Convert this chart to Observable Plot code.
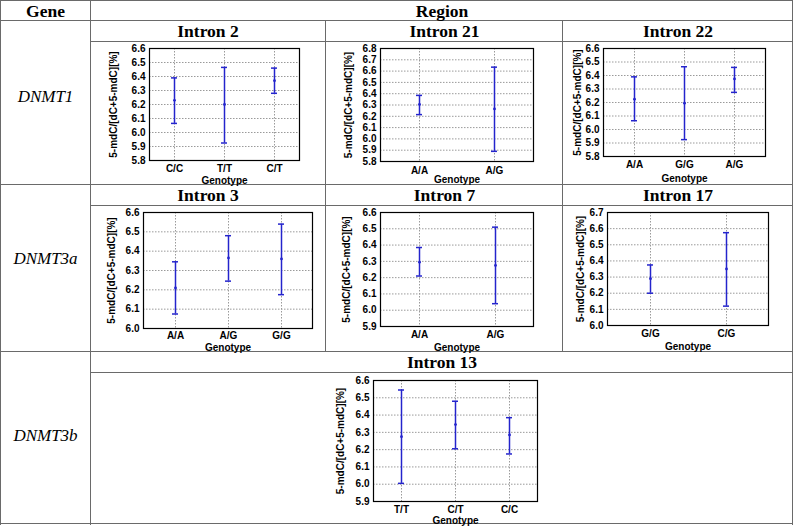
<!DOCTYPE html>
<html><head><meta charset="utf-8">
<script src="https://cdn.jsdelivr.net/npm/d3@7"></script>
<script src="https://cdn.jsdelivr.net/npm/@observablehq/plot@0.6"></script>
<style>
body{margin:0;background:#fff;}
#page{position:relative;width:794px;height:526px;overflow:hidden;background:#fff;}
.hl{position:absolute;height:0;border-top:1.5px solid #6a6a6a;}
.vl{position:absolute;width:0;border-left:1.5px solid #6a6a6a;}
.t{position:absolute;font-family:"Liberation Serif","Times New Roman",serif;font-weight:bold;font-size:17.5px;transform:translate(-50%,-50%);white-space:nowrap;color:#000;line-height:1;}
.g{font-style:italic;font-weight:normal;font-size:17px;}
.p{position:absolute;}
</style></head><body><div id="page"></div>
<script>
// ---------- data ----------
const headerGene = "Gene";
const headerRegion = "Region";
const genes = ["DNMT1", "DNMT3a", "DNMT3b"];
const yLabel = "5-mdC/[dC+5-mdC][%]";
const xLabel = "Genotype";

const intron2Genotypes = ["C/C", "T/T", "C/T"];
const intron2Mean  = [6.23, 6.20, 6.37];
const intron2Upper = [6.39, 6.465, 6.46];
const intron2Lower = [6.065, 5.925, 6.28];

const intron21Genotypes = ["A/A", "A/G"];
const intron21Mean  = [6.305, 6.265];
const intron21Upper = [6.385, 6.635];
const intron21Lower = [6.215, 5.89];

const intron22Genotypes = ["A/A", "G/G", "A/G"];
const intron22Mean  = [6.225, 6.195, 6.375];
const intron22Upper = [6.39, 6.465, 6.46];
const intron22Lower = [6.065, 5.925, 6.275];

const intron3Genotypes = ["A/A", "A/G", "G/G"];
const intron3Mean  = [6.21, 6.365, 6.36];
const intron3Upper = [6.345, 6.48, 6.54];
const intron3Lower = [6.075, 6.245, 6.175];

const intron7Genotypes = ["A/A", "A/G"];
const intron7Mean  = [6.295, 6.275];
const intron7Upper = [6.385, 6.51];
const intron7Lower = [6.21, 6.04];

const intron17Genotypes = ["G/G", "C/G"];
const intron17Mean  = [6.29, 6.35];
const intron17Upper = [6.375, 6.575];
const intron17Lower = [6.20, 6.12];

const intron13Genotypes = ["T/T", "C/T", "C/C"];
const intron13Mean  = [6.275, 6.345, 6.285];
const intron13Upper = [6.545, 6.48, 6.385];
const intron13Lower = [6.005, 6.205, 6.175];

// y-axis ranges [min, max]
const intron2Range  = [5.8, 6.6];
const intron21Range = [5.8, 6.8];
const intron22Range = [5.8, 6.6];
const intron3Range  = [6.0, 6.6];
const intron7Range  = [5.9, 6.6];
const intron17Range = [6.0, 6.7];
const intron13Range = [5.9, 6.6];

// ---------- layout ----------
const page = document.getElementById("page");
function hline(x1, x2, y){const d=document.createElement("div");d.className="hl";d.style.left=x1+"px";d.style.width=(x2-x1)+"px";d.style.top=(y-0.75)+"px";page.appendChild(d);}
function vline(x, y1, y2){const d=document.createElement("div");d.className="vl";d.style.left=(x-0.75)+"px";d.style.top=y1+"px";d.style.height=(y2-y1)+"px";page.appendChild(d);}
function label(txt, x, y, cls){const d=document.createElement("div");d.className="t"+(cls?" "+cls:"");d.textContent=txt;d.style.left=x+"px";d.style.top=y+"px";page.appendChild(d);}

[0.75, 21, 185, 352, 524].forEach(y => hline(0, 793, y));
[42, 206, 373].forEach(y => hline(91, 793, y));
vline(0.75, 0, 525); vline(91, 0, 525); vline(793, 0, 525);
vline(326, 21, 352); vline(563, 21, 352);

label(headerGene, 45.5, 11.5);
label(headerRegion, 442, 11.5);
label(genes[0], 45.5, 96, "g");
label(genes[1], 45.5, 258, "g");
label(genes[2], 45.5, 435, "g");

const BLUE = "#2424cc";
const panels = [
  {title:"Intron 2",  g:intron2Genotypes,  m:intron2Mean,  hi:intron2Upper,  lo:intron2Lower,  dom:intron2Range,  box:[149,299,48,160], pad:0.5,  yl:40, xl:23, tp:4, tx:208, ty:31.5},
  {title:"Intron 21", g:intron21Genotypes, m:intron21Mean, hi:intron21Upper, lo:intron21Lower, dom:intron21Range, box:[380,533,48,161], pad:0.52, yl:36, xl:21.5, tp:5, tx:444.5, ty:31.5},
  {title:"Intron 22", g:intron22Genotypes, m:intron22Mean, hi:intron22Upper, lo:intron22Lower, dom:intron22Range, box:[603,765,48,156], pad:0.59, yl:30, xl:25, tp:4, tx:678, ty:31.5},
  {title:"Intron 3",  g:intron3Genotypes,  m:intron3Mean,  hi:intron3Upper,  lo:intron3Lower,  dom:intron3Range,  box:[143,312,212,328], pad:0.59, yl:36, xl:22, tp:3, tx:208, ty:195.5},
  {title:"Intron 7",  g:intron7Genotypes,  m:intron7Mean,  hi:intron7Upper,  lo:intron7Lower,  dom:intron7Range,  box:[380,533,212,326], pad:0.5,  yl:38, xl:24, tp:4, tx:444.5, ty:195.5},
  {title:"Intron 17", g:intron17Genotypes, m:intron17Mean, hi:intron17Upper, lo:intron17Lower, dom:intron17Range, box:[607,768,212,325], pad:0.55, yl:31, xl:24, tp:4, tx:678, ty:195.5},
  {title:"Intron 13", g:intron13Genotypes, m:intron13Mean, hi:intron13Upper, lo:intron13Lower, dom:intron13Range, box:[373,537,380,501], pad:0.5,  yl:37, xl:22, tp:4, tx:442, ty:362.5}
];

const ML = 50, MR = 8, MT = 8, MB = 30;
for (const p of panels) {
  label(p.title, p.tx, p.ty);
  const rows = p.g.map((g, i) => ({g, m: p.m[i], hi: p.hi[i], lo: p.lo[i]}));
  const n = Math.round((p.dom[1] - p.dom[0]) * 10);
  const yt = d3.ticks(p.dom[0], p.dom[1], n);
  const [l, r, t, b] = p.box;
  const chart = Plot.plot({
    width: (r - l) + ML + MR,
    height: (b - t) + MT + MB,
    marginLeft: ML, marginRight: MR, marginTop: MT, marginBottom: MB,
    style: {fontFamily: "'Liberation Sans', Arial, sans-serif", fontSize: "10px", fontWeight: "bold", color: "#000", background: "transparent", overflow: "visible"},
    x: {type: "point", domain: p.g, padding: p.pad},
    y: {domain: p.dom},
    marks: [
      Plot.gridY(yt, {stroke: "#9a9a9a", strokeOpacity: 1, strokeDasharray: "1.5,1.5"}),
      Plot.gridX(p.g, {stroke: "#9a9a9a", strokeOpacity: 1, strokeDasharray: "1.5,1.5"}),
      Plot.frame({stroke: "#000", strokeWidth: 1.2}),
      Plot.axisY(yt, {tickSize: 0, tickPadding: 4, tickFormat: ".1f", label: yLabel, labelAnchor: "center", labelOffset: p.yl, labelArrow: "none"}),
      Plot.axisX({tickSize: 0, tickPadding: p.tp, label: xLabel, labelAnchor: "center", labelOffset: p.xl, labelArrow: "none"}),
      Plot.ruleX(rows, {x: "g", y1: "lo", y2: "hi", stroke: BLUE, strokeWidth: 1.5}),
      Plot.ruleY(rows, {x1: "g", x2: "g", y: "hi", insetLeft: -3, insetRight: -3, stroke: BLUE, strokeWidth: 1.5}),
      Plot.ruleY(rows, {x1: "g", x2: "g", y: "lo", insetLeft: -3, insetRight: -3, stroke: BLUE, strokeWidth: 1.5}),
      Plot.dot(rows, {x: "g", y: "m", r: 1.4, fill: BLUE, stroke: null})
    ]
  });
  chart.classList.add("p");
  chart.style.left = (l - ML) + "px";
  chart.style.top = (t - MT) + "px";
  page.appendChild(chart);
}
</script></body></html>
